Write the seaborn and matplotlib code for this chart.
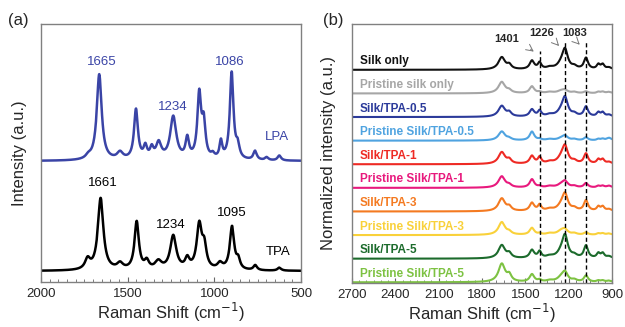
import matplotlib
matplotlib.use('Agg')
import matplotlib.pyplot as plt
from matplotlib.ticker import MultipleLocator
import seaborn as sns
import pandas as pd
import numpy as np

sns.set_theme(style='ticks')
plt.rcParams['font.family'] = ['Liberation Sans', 'DejaVu Sans']

# ---------------- panel (a): LPA / TPA Raman spectra ----------------
# peak position (cm-1), height (a.u.), FWHM (cm-1)
lpa_pos = [1727, 1664, 1544, 1452, 1398, 1361, 1321, 1237, 1156, 1087, 1061, 1009, 962, 900, 865, 765, 698, 625]
lpa_amp = [3, 86, 7, 50, 12, 10, 16, 43, 20, 64, 34, 4, 17, 87, 12, 9, 3, 5]
lpa_fwhm = [35, 34, 40, 27, 24, 24, 36, 42, 24, 26, 24, 24, 19, 25, 24, 24, 24, 24]

tpa_pos = [1731, 1656, 1544, 1448, 1390, 1323, 1237, 1156, 1087, 1058, 967, 898, 862, 764, 625]
tpa_amp = [10, 72, 6, 48, 8, 8, 34, 10, 44, 21, 6, 43, 9, 5, 3]
tpa_fwhm = [35, 38, 40, 30, 30, 45, 42, 30, 35, 30, 35, 30, 25, 25, 25]

a_labels = [('1665', 1650, 220, '#3a44a6'), ('1234', 1240, 175, '#3a44a6'), ('1086', 910, 220, '#3a44a6'),
            ('LPA', 640, 145, '#3a44a6'), ('1661', 1644, 99, 'black'), ('1234', 1252, 57, 'black'),
            ('1095', 900, 69, 'black'), ('TPA', 631, 30, 'black')]

# ---------------- panel (b): silk / TPA films ----------------
b_names = ['Silk only', 'Pristine silk only', 'Silk/TPA-0.5', 'Pristine Silk/TPA-0.5', 'Silk/TPA-1',
           'Pristine Silk/TPA-1', 'Silk/TPA-3', 'Pristine Silk/TPA-3', 'Silk/TPA-5', 'Pristine Silk/TPA-5']
b_colors = ['#111111', '#a6a6a6', '#2b3a9a', '#4fa3e0', '#ee2a24',
            '#e8197d', '#f47a21', '#f9d13a', '#1c6b2c', '#7dc242']
b_pos = [1663, 1611, 1454, 1401, 1330, 1250, 1225, 1160, 1080, 994, 964, 920]
b_fwhm = [55, 35, 38, 28, 55, 65, 45, 40, 34, 28, 28, 40]
b_amp = [
    [0.52, 0.17, 0.36, 0.27, 0.08, 0.20, 0.78, 0.10, 0.48, 0.20, 0.20, 0.08],
    [0.48, 0.10, 0.29, 0.05, 0.05, 0.10, 0.10, 0.05, 0.08, 0.06, 0.06, 0.06],
    [0.46, 0.16, 0.30, 0.24, 0.08, 0.20, 0.74, 0.10, 0.42, 0.17, 0.17, 0.08],
    [0.38, 0.07, 0.37, 0.05, 0.05, 0.08, 0.17, 0.05, 0.13, 0.06, 0.06, 0.11],
    [0.50, 0.16, 0.33, 0.27, 0.08, 0.22, 0.68, 0.10, 0.43, 0.18, 0.18, 0.08],
    [0.48, 0.09, 0.35, 0.05, 0.06, 0.12, 0.23, 0.06, 0.19, 0.07, 0.07, 0.08],
    [0.54, 0.16, 0.34, 0.25, 0.08, 0.20, 0.66, 0.10, 0.45, 0.18, 0.18, 0.08],
    [0.54, 0.10, 0.29, 0.05, 0.06, 0.17, 0.17, 0.06, 0.10, 0.06, 0.06, 0.06],
    [0.56, 0.18, 0.34, 0.27, 0.08, 0.23, 0.88, 0.10, 0.53, 0.20, 0.20, 0.08],
    [0.77, 0.26, 0.32, 0.08, 0.06, 0.18, 0.36, 0.08, 0.27, 0.06, 0.06, 0.06],
]
marked = [1401, 1226, 1083]


def spectrum(x, pos, amp, fwhm):
    y = np.zeros_like(x)
    for p, a, w in zip(pos, amp, fwhm):
        y += a / (1 + ((x - p) / (w / 2)) ** 2)
    return y


fig = plt.figure(figsize=(6.25, 3.27), dpi=100)
ax1 = fig.add_axes([0.0656, 0.1376, 0.416, 0.789])
ax2 = fig.add_axes([0.5632, 0.1346, 0.416, 0.792])

# panel (a)
xa = np.linspace(500, 2000, 1500)
spec_a = pd.DataFrame({'shift': xa,
                       'LPA': 121 + spectrum(xa, lpa_pos, lpa_amp, lpa_fwhm),
                       'TPA': 11 + spectrum(xa, tpa_pos, tpa_amp, tpa_fwhm)})
sns.lineplot(data=spec_a, x='shift', y='LPA', color='#3a44a6', lw=1.8, ax=ax1)
sns.lineplot(data=spec_a, x='shift', y='TPA', color='black', lw=1.8, ax=ax1)
for txt, x, y, c in a_labels:
    ax1.text(x, y, txt, color=c, fontsize=9.5, ha='center', va='center')
ax1.set_xlim(2000, 500)
ax1.set_ylim(0, 258)
ax1.set_yticks([])
ax1.xaxis.set_major_locator(MultipleLocator(500))
ax1.xaxis.set_minor_locator(MultipleLocator(50))
ax1.set_ylabel('Intensity (a.u.)', fontsize=12)
ax1.yaxis.set_label_coords(-0.055, 0.5)

# panel (b)
xb = np.linspace(900, 2700, 1800)
n = len(b_names)
for i, (name, col, amp) in enumerate(zip(b_names, b_colors, b_amp)):
    off = n - 1 - i
    sns.lineplot(x=xb, y=off + spectrum(xb, b_pos, amp, b_fwhm), color=col, lw=1.5, ax=ax2)
    ax2.text(2645, off + 0.36, name, color=col, fontsize=8.5, fontweight='bold', ha='left', va='center')

for x, top in zip(marked, [9.8, 10.18, 10.18]):
    ax2.plot([x, x], [-0.05, top], ls=(0, (3, 2)), color='black', lw=1)

for txt, x, y in [('1401', 1629, 10.3), ('1226', 1387, 10.55), ('1083', 1156, 10.55)]:
    ax2.text(x, y, txt, fontsize=8, fontweight='bold', ha='center', va='center')
for (x0, y0), (x1, y1) in [((1479, 9.94), (1426, 9.70)), ((1288, 10.15), (1253, 9.92)), ((1144, 10.19), (1110, 9.98))]:
    ax2.annotate('', xy=(x1, y1), xytext=(x0, y0),
                 arrowprops=dict(arrowstyle='->', color='#777777', lw=0.7))

ax2.set_xlim(2700, 900)
ax2.set_ylim(-0.03, 10.94)
ax2.set_yticks([])
ax2.xaxis.set_major_locator(MultipleLocator(300))
ax2.xaxis.set_minor_locator(MultipleLocator(50))
ax2.set_ylabel('Normalized intensity (a.u.)', fontsize=12)
ax2.yaxis.set_label_coords(-0.062, 0.5)

for ax in (ax1, ax2):
    ax.set_xlabel('Raman Shift (cm$^{-1}$)', fontsize=12, labelpad=1)
    ax.tick_params(axis='x', which='major', direction='in', length=3.5, width=0.8,
                   labelsize=9.5, pad=4, color='#666666')
    ax.tick_params(axis='x', which='minor', direction='in', length=2, width=0.6, color='#666666')
    for sp in ax.spines.values():
        sp.set_visible(True)
        sp.set_color('#808080')
        sp.set_linewidth(1.0)

fig.text(0.029, 0.936, '(a)', fontsize=12, ha='center', va='center')
fig.text(0.533, 0.936, '(b)', fontsize=12, ha='center', va='center')

fig.savefig('out.png', dpi=100)
